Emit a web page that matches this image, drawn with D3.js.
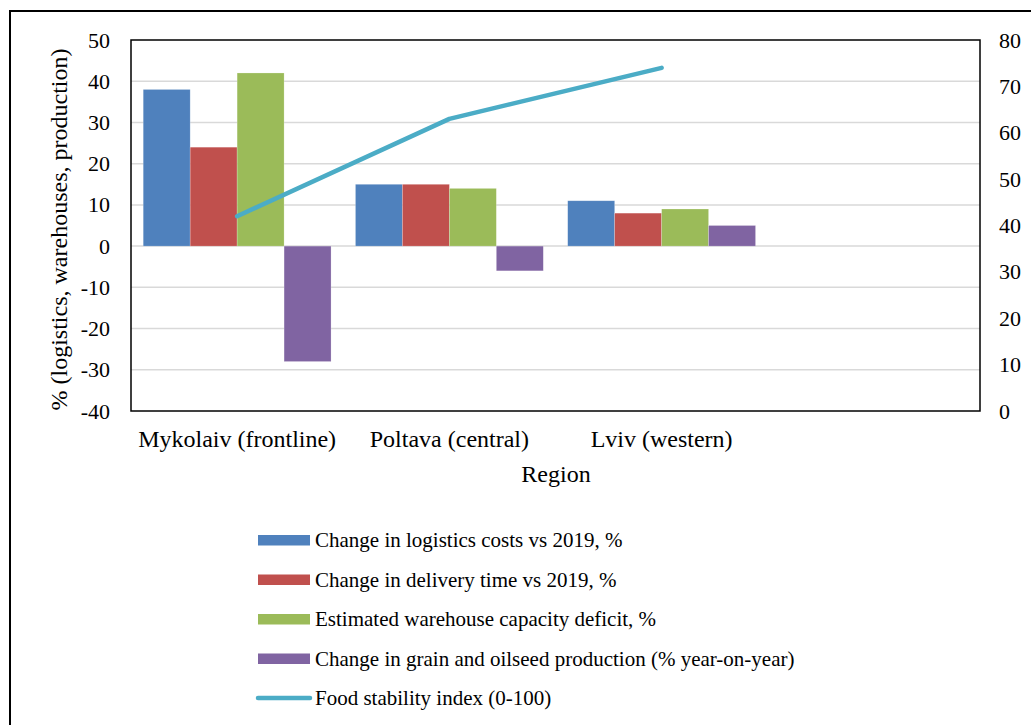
<!DOCTYPE html>
<html>
<head>
<meta charset="utf-8">
<script src="https://cdn.jsdelivr.net/npm/d3@7"></script>
<style>
  html, body { margin: 0; padding: 0; background: #fff; }
  svg { display: block; font-family: "Liberation Serif", "Times New Roman", serif; }
</style>
</head>
<body>
<svg id="chart" width="1031" height="725"></svg>
<script>
// Regions (the fourth slot is an empty category)
const regions = ["Mykolaiv (frontline)", "Poltava (central)", "Lviv (western)", ""];

// Bar series, %
const seriesNames = [
  "Change in logistics costs vs 2019, %",
  "Change in delivery time vs 2019, %",
  "Estimated warehouse capacity deficit, %",
  "Change in grain and oilseed production (% year-on-year)"
];
const logisticsCost   = [38, 15, 11];
const deliveryTime    = [24, 15, 8];
const warehouseDefict = [42, 14, 9];
const grainProduction = [-28, -6, 5];

// Line series (right axis)
const lineName = "Food stability index (0-100)";
const foodStability = [42, 63, 74];

const leftTicks  = [-40, -30, -20, -10, 0, 10, 20, 30, 40, 50];
const rightTicks = [0, 10, 20, 30, 40, 50, 60, 70, 80];

const colors = ["#4f81bd", "#c0504d", "#9bbb59", "#8064a2"];
const lineColor = "#4bacc6";

const svg = d3.select("#chart");
const plot = { left: 131, right: 980, top: 40, bottom: 411 };
const plain = d => String(d);   // ASCII hyphen for negatives

// outer frame
svg.append("rect")
  .attr("x", 10).attr("y", 11)
  .attr("width", 1040).attr("height", 740)
  .attr("fill", "none").attr("stroke", "#000").attr("stroke-width", 2);

const x0 = d3.scaleBand().domain(regions.map((d, i) => i)).range([plot.left, plot.right]).padding(0);
const x1 = d3.scaleBand().domain(d3.range(4)).range([0, x0.bandwidth()]).paddingInner(0).paddingOuter(0.26);
const yL = d3.scaleLinear().domain([-40, 50]).range([plot.bottom, plot.top]);
const yR = d3.scaleLinear().domain([0, 80]).range([plot.bottom, plot.top]);

// gridlines
svg.append("g").selectAll("line").data(leftTicks.filter(t => t > -40 && t < 50)).join("line")
  .attr("x1", plot.left).attr("x2", plot.right)
  .attr("y1", d => yL(d)).attr("y2", d => yL(d))
  .attr("stroke", "#d9d9d9").attr("stroke-width", 1.5);

// bars
const series = [logisticsCost, deliveryTime, warehouseDefict, grainProduction];
const barG = svg.append("g");
series.forEach((vals, s) => {
  barG.selectAll(null).data(vals).join("rect")
    .attr("x", (d, i) => x0(i) + x1(s))
    .attr("width", x1.bandwidth())
    .attr("y", d => yL(Math.max(0, d)))
    .attr("height", d => Math.abs(yL(d) - yL(0)))
    .attr("fill", colors[s])
    .attr("stroke", "rgba(255,255,255,0.35)").attr("stroke-width", 0.6);
});

// line on right axis
const line = d3.line()
  .x((d, i) => x0(i) + x0.bandwidth() / 2)
  .y(d => yR(d));
svg.append("path").datum(foodStability)
  .attr("d", line).attr("fill", "none")
  .attr("stroke", lineColor).attr("stroke-width", 4.5)
  .attr("stroke-linecap", "round").attr("stroke-linejoin", "round");

// plot frame
svg.append("rect")
  .attr("x", plot.left).attr("y", plot.top)
  .attr("width", plot.right - plot.left).attr("height", plot.bottom - plot.top)
  .attr("fill", "none").attr("stroke", "#000").attr("stroke-width", 1.5);

// left axis
const axL = svg.append("g").attr("transform", `translate(${plot.left - 21},0)`)
  .call(d3.axisLeft(yL).tickValues(leftTicks).tickFormat(plain).tickSize(0).tickPadding(0));
axL.select(".domain").remove();
axL.selectAll("text").attr("font-size", 22).attr("font-family", "Liberation Serif").attr("fill", "#000");

// right axis
const axR = svg.append("g").attr("transform", `translate(${plot.right + 19},0)`)
  .call(d3.axisRight(yR).tickValues(rightTicks).tickFormat(plain).tickSize(0).tickPadding(0));
axR.select(".domain").remove();
axR.selectAll("text").attr("font-size", 22).attr("font-family", "Liberation Serif").attr("fill", "#000");

// category axis
const axB = svg.append("g").attr("transform", `translate(0,${plot.bottom + 19})`)
  .call(d3.axisBottom(x0).tickFormat(i => regions[i]).tickSize(0).tickPadding(0));
axB.select(".domain").remove();
axB.selectAll("text").attr("font-size", 24).attr("font-family", "Liberation Serif").attr("fill", "#000")
  .attr("dy", "0.71em");

// axis titles
svg.append("text")
  .attr("x", 556).attr("y", 482)
  .attr("text-anchor", "middle").attr("font-size", 24).text("Region");

svg.append("text")
  .attr("transform", `translate(67,${(plot.top + plot.bottom) / 2 + 4}) rotate(-90)`)
  .attr("text-anchor", "middle").attr("font-size", 24)
  .text("% (logistics, warehouses, production)");

// legend
const legendRows = [...seriesNames, lineName];
const legY = d3.scalePoint().domain(d3.range(legendRows.length)).range([540, 698]);
const leg = svg.append("g");
legendRows.forEach((name, i) => {
  const cy = legY(i);
  if (i < 4) {
    leg.append("rect").attr("x", 258).attr("y", cy - 5).attr("width", 52).attr("height", 10.5)
      .attr("fill", colors[i]);
  } else {
    leg.append("line").attr("x1", 258).attr("x2", 310).attr("y1", cy).attr("y2", cy)
      .attr("stroke", lineColor).attr("stroke-width", 4.5).attr("stroke-linecap", "round");
  }
  leg.append("text").attr("x", 315).attr("y", cy).attr("dy", "0.35em")
    .attr("font-size", 21).text(name);
});
</script>
</body>
</html>
